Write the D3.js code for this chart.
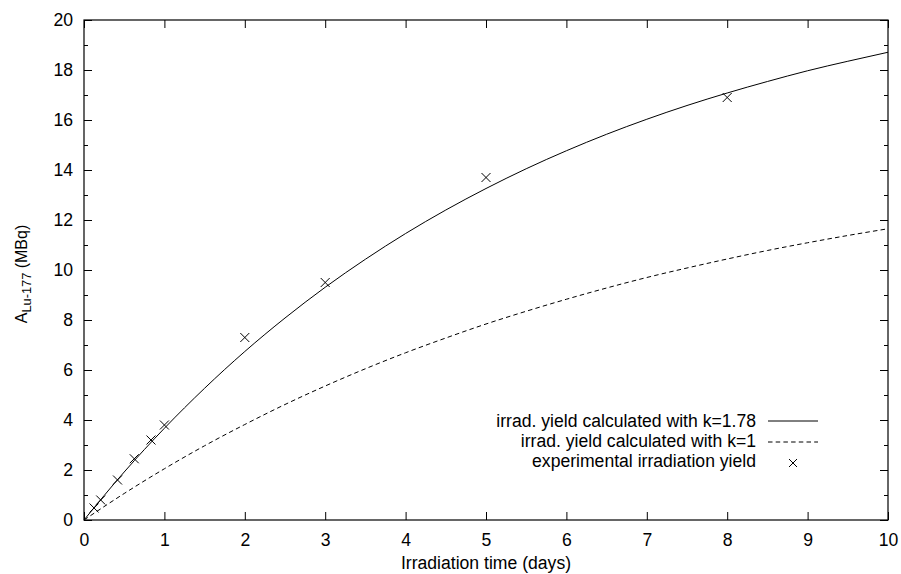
<!DOCTYPE html>
<html>
<head>
<meta charset="utf-8">
<script src="https://cdn.jsdelivr.net/npm/d3@7"></script>
<style>
  body { margin: 0; background: #fff; }
  svg { display: block; font-family: "Liberation Sans", Arial, sans-serif; }
</style>
</head>
<body>
<div id="chart"></div>
<script>
// values
var curveX = [0, 0.5, 1, 1.5, 2, 2.5, 3, 3.5, 4, 4.5, 5, 5.5, 6, 6.5, 7, 7.5, 8, 8.5, 9, 9.5, 10];
var yieldK178 = [0, 1.92, 3.67, 5.27, 6.74, 8.08, 9.31, 10.43, 11.46, 12.40, 13.26, 14.05, 14.77, 15.43, 16.03, 16.58, 17.08, 17.54, 17.97, 18.35, 18.71];
var yieldK1 = [0, 1.06, 2.05, 2.97, 3.82, 4.62, 5.36, 6.05, 6.69, 7.28, 7.84, 8.35, 8.83, 9.28, 9.70, 10.08, 10.44, 10.78, 11.09, 11.38, 11.65];
var expX = [0.125, 0.208, 0.417, 0.625, 0.833, 1, 2, 3, 5, 8];
var expY = [0.48, 0.8, 1.6, 2.45, 3.2, 3.8, 7.3, 9.5, 13.7, 16.9];
var xTicks = [0, 1, 2, 3, 4, 5, 6, 7, 8, 9, 10];
var yTicks = [0, 2, 4, 6, 8, 10, 12, 14, 16, 18, 20];
var yMinor = [1, 3, 5, 7, 9, 11, 13, 15, 17, 19];
var legendLabels = ["irrad. yield calculated with k=1.78", "irrad. yield calculated with k=1", "experimental irradiation yield"];

var W = 901, H = 574;
var margins = [20, 13, 54, 84]; // top, right, bottom, left
var width = W - margins[1] - margins[3];
var height = H - margins[0] - margins[2];

var svg = d3.select("#chart").append("svg").attr("width", W).attr("height", H);
var g = svg.append("g").attr("transform", "translate(" + margins[3] + "," + margins[0] + ")");

var x = d3.scaleLinear().domain([0, 10]).range([0, width]);
var y = d3.scaleLinear().domain([0, 20]).range([height, 0]);

// axes, gnuplot style: inward ticks, mirrored
var fs = "17.6px";
g.append("g").attr("transform", "translate(0," + height + ")")
    .call(d3.axisBottom(x).tickValues(xTicks).tickSize(-8).tickPadding(14).tickFormat(d3.format("d")));
g.append("g")
    .call(d3.axisTop(x).tickValues(xTicks).tickSize(-8).tickFormat(""));
g.append("g")
    .call(d3.axisLeft(y).tickValues(yTicks).tickSize(-8).tickPadding(11).tickFormat(d3.format("d")));
g.append("g").attr("transform", "translate(" + width + ",0)")
    .call(d3.axisRight(y).tickValues(yTicks).tickSize(-8).tickFormat(""));
g.append("g")
    .call(d3.axisLeft(y).tickValues(yMinor).tickSize(-4).tickFormat(""));
g.append("g").attr("transform", "translate(" + width + ",0)")
    .call(d3.axisRight(y).tickValues(yMinor).tickSize(-4).tickFormat(""));

g.selectAll(".domain").remove();
g.selectAll(".tick line").attr("stroke", "#000");
g.selectAll(".tick text").attr("font-size", fs).attr("fill", "#000").attr("font-family", "Liberation Sans, Arial, sans-serif");

g.append("rect").attr("width", width).attr("height", height)
    .attr("fill", "none").attr("stroke", "#000").attr("stroke-width", 1.2);

// curves
var line = d3.line().curve(d3.curveMonotoneX);
g.append("path")
    .attr("d", line(curveX.map(function(d, i) { return [x(d), y(yieldK178[i])]; })))
    .attr("fill", "none").attr("stroke", "#000").attr("stroke-width", 1);
g.append("path")
    .attr("d", line(curveX.map(function(d, i) { return [x(d), y(yieldK1[i])]; })))
    .attr("fill", "none").attr("stroke", "#000").attr("stroke-width", 1)
    .attr("stroke-dasharray", "4.5,3.2");

function cross(sel, cx, cy, r) {
    sel.append("path")
        .attr("d", "M" + (cx - r) + "," + (cy - r) + "L" + (cx + r) + "," + (cy + r) +
            "M" + (cx - r) + "," + (cy + r) + "L" + (cx + r) + "," + (cy - r))
        .attr("stroke", "#000").attr("stroke-width", 1).attr("fill", "none");
}
expX.forEach(function(d, i) { cross(g, x(d), y(expY[i]), 4.5); });

// legend
var lg = svg.append("g");
var rowY = [427, 447, 467];
legendLabels.forEach(function(t, i) {
    lg.append("text").attr("x", 756).attr("y", rowY[i]).attr("text-anchor", "end")
        .attr("font-size", fs).text(t);
});
lg.append("line").attr("x1", 768).attr("x2", 818).attr("y1", 421).attr("y2", 421)
    .attr("stroke", "#000").attr("stroke-width", 1);
lg.append("line").attr("x1", 768).attr("x2", 818).attr("y1", 442).attr("y2", 442)
    .attr("stroke", "#000").attr("stroke-width", 1).attr("stroke-dasharray", "4.5,3.2");
cross(lg, 793, 463, 4);

// axis titles
svg.append("text").attr("x", margins[3] + width / 2).attr("y", 569)
    .attr("text-anchor", "middle").attr("font-size", fs).text("Irradiation time (days)");
var yl = svg.append("text").attr("text-anchor", "middle").attr("font-size", "16px")
    .attr("transform", "translate(27,274)rotate(-90)");
yl.append("tspan").text("A");
yl.append("tspan").attr("font-size", "12.8px").attr("dy", 4).text("Lu-177");
yl.append("tspan").attr("dy", -4).text(" (MBq)");
</script>
</body>
</html>
